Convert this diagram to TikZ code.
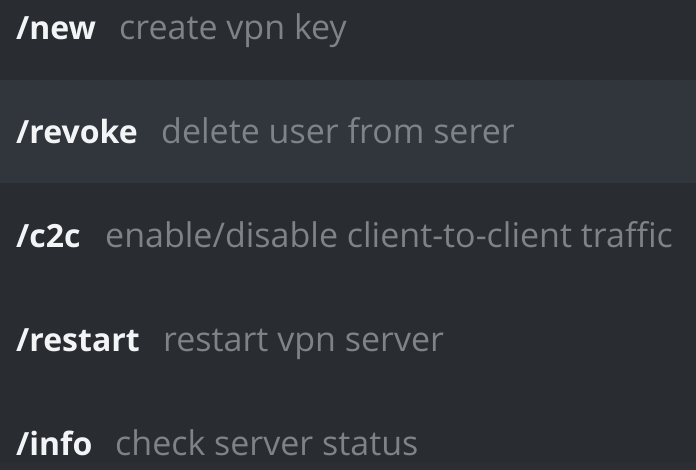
\documentclass[tikz,border=0pt]{standalone}
\usepackage{fontspec}
\setmainfont{Open Sans}
\definecolor{bg}{HTML}{292C31}
\definecolor{hl}{HTML}{30363C}
\definecolor{bot}{HTML}{2B2F34}
\definecolor{cmdc}{HTML}{F3F4F6}
\definecolor{descc}{HTML}{7E8388}
\begin{document}
\begin{tikzpicture}[x=1pt,y=-1pt,
  cmd/.style={anchor=base west,inner sep=0pt,text=cmdc,font=\fontsize{32}{38}\selectfont\bfseries},
  desc/.style={anchor=base west,inner sep=0pt,text=descc,font=\fontsize{34}{40}\selectfont}]
\useasboundingbox (0,0) rectangle (696,470);
\fill[bg] (0,0) rectangle (696,470);
\fill[hl] (0,80) rectangle (696,183);
\fill[bot] (0,463) rectangle (696,470);
\node[cmd] (c1) at (16,40) {/new};
\node[desc] (d1) at (119,40) {create vpn key};
\node[cmd] (c2) at (16,144) {/revoke};
\node[desc] (d2) at (161,144) {delete user from serer};
\node[cmd] (c3) at (16,248) {/c2c};
\node[desc] (d3) at (105,248) {enable/disable client-to-client traffic};
\node[cmd] (c4) at (16,352) {/restart};
\node[desc] (d4) at (163,352) {restart vpn server};
\node[cmd] (c5) at (16,455) {/info};
\node[desc] (d5) at (115,455) {check server status};
\end{tikzpicture}
\end{document}
